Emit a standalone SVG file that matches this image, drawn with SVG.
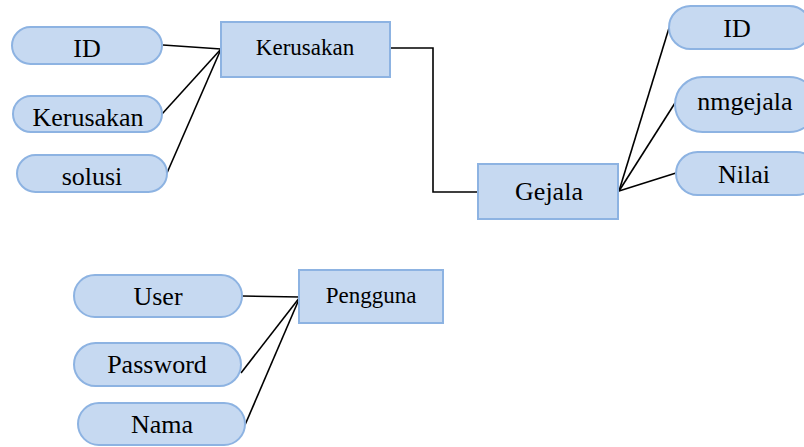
<svg xmlns="http://www.w3.org/2000/svg" width="804" height="447" viewBox="0 0 804 447">
<style>
.s{fill:#C6D9F1;stroke:#8DB3E2;stroke-width:2}
text{font-family:'Liberation Serif','Times New Roman',Tinos,'DejaVu Serif',serif;font-size:26px;fill:#000;text-anchor:middle}
.t2{font-size:23px}
.c{stroke:#000;stroke-width:1.6;fill:none}
</style>
<rect width="804" height="447" fill="#fff"/>
<g id="connectors">
<line class="c" x1="163" y1="45" x2="221" y2="49"/>
<line class="c" x1="162" y1="114" x2="221" y2="49"/>
<line class="c" x1="167" y1="173" x2="221" y2="49"/>
<polyline class="c" points="390,48 433,48 433,192 478,192"/>
<line class="c" x1="619" y1="191" x2="669" y2="28"/>
<line class="c" x1="619" y1="191" x2="675" y2="103"/>
<line class="c" x1="619" y1="191" x2="676" y2="173"/>
<line class="c" x1="242" y1="296" x2="300" y2="297"/>
<line class="c" x1="241" y1="373" x2="300" y2="297"/>
<line class="c" x1="245" y1="425" x2="300" y2="297"/>
</g>
<g id="kerusakan">
<rect class="s" x="221" y="22" width="169" height="55"/>
<text class="t2" x="305" y="55">Kerusakan</text>
</g>
<g id="k-id">
<rect class="s" x="12" y="27" width="150" height="37" rx="18.5"/>
<text x="87" y="57">ID</text>
</g>
<g id="k-kerusakan">
<rect class="s" x="13" y="96" width="149" height="36" rx="18"/>
<text x="88" y="126">Kerusakan</text>
</g>
<g id="k-solusi">
<rect class="s" x="17" y="155" width="150" height="37" rx="18.5"/>
<text x="92" y="185">solusi</text>
</g>
<g id="gejala">
<rect class="s" x="478" y="164" width="140" height="55"/>
<text x="549" y="200">Gejala</text>
</g>
<g id="g-id">
<rect class="s" x="669" y="6" width="142" height="43" rx="21.5"/>
<text x="737" y="37">ID</text>
</g>
<g id="g-nmgejala">
<rect class="s" x="675" y="77" width="142" height="55" rx="27.5"/>
<text x="745" y="110">nmgejala</text>
</g>
<g id="g-nilai">
<rect class="s" x="676" y="152" width="142" height="43" rx="21.5"/>
<text x="744" y="183">Nilai</text>
</g>
<g id="pengguna">
<rect class="s" x="299" y="270" width="144" height="53"/>
<text class="t2" x="371" y="303">Pengguna</text>
</g>
<g id="p-user">
<rect class="s" x="74" y="275" width="168" height="42" rx="21"/>
<text x="158" y="305">User</text>
</g>
<g id="p-password">
<rect class="s" x="74" y="343" width="167" height="43" rx="21.5"/>
<text x="157" y="373">Password</text>
</g>
<g id="p-nama">
<rect class="s" x="78" y="403" width="167" height="42" rx="21"/>
<text x="162" y="433">Nama</text>
</g>
</svg>
